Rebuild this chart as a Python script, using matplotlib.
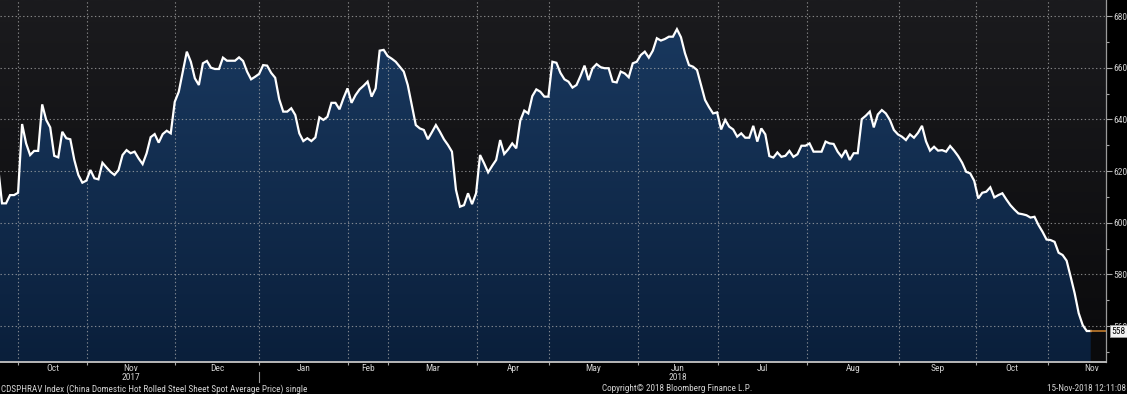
import numpy as np
import matplotlib
matplotlib.use("Agg")
import matplotlib.pyplot as plt
from matplotlib.colors import LinearSegmentedColormap
from matplotlib.patches import Polygon
from matplotlib.transforms import blended_transform_factory

plt.rcParams["font.family"] = ["Roboto Condensed", "DejaVu Sans"]

# China domestic HRC spot average price, one value per trading day (Sep-2017 .. 15-Nov-2018)
prices = [
    622.0, 607.5, 607.5, 610.7, 610.7, 611.6, 638.2, 630.7, 626.2, 627.8,
    627.8, 645.8, 639.8, 636.9, 625.9, 625.3, 635.2, 632.7, 632.3, 624.3,
    618.5, 615.5, 616.3, 620.4, 617.2, 616.8, 623.2, 621.4, 619.7, 618.5,
    620.4, 626.2, 628.1, 626.9, 627.5, 624.9, 622.7, 626.9, 633.1, 634.3,
    631.0, 634.3, 635.6, 634.6, 646.8, 650.7, 658.5, 666.2, 662.3, 655.9,
    653.3, 661.7, 662.6, 660.0, 659.5, 659.5, 663.9, 662.7, 662.7, 662.7,
    664.0, 662.6, 658.5, 655.5, 656.5, 657.6, 661.0, 660.8, 658.0, 656.1,
    647.8, 643.0, 643.0, 644.3, 641.7, 634.6, 631.6, 632.7, 631.6, 633.0,
    640.8, 639.8, 641.0, 646.4, 646.4, 643.9, 648.2, 652.0, 646.4, 649.4,
    651.6, 653.0, 654.6, 648.8, 652.0, 666.6, 666.9, 664.5, 663.5, 662.3,
    660.4, 658.5, 653.3, 645.5, 637.8, 636.5, 635.9, 632.3, 635.0, 637.8,
    635.2, 632.3, 630.1, 627.5, 612.7, 606.2, 606.8, 611.4, 607.2, 611.4,
    626.2, 623.0, 619.5, 622.0, 624.3, 632.0, 626.6, 628.4, 630.7, 628.8,
    639.5, 643.4, 642.3, 649.0, 651.6, 650.7, 648.8, 648.8, 662.3, 661.9,
    658.0, 655.5, 654.6, 652.3, 653.3, 656.8, 660.8, 655.2, 659.8, 661.4,
    660.2, 659.8, 659.8, 654.6, 654.3, 658.5, 657.8, 656.3, 661.7, 662.3,
    664.9, 666.2, 663.9, 666.6, 671.4, 670.5, 671.1, 672.0, 672.0, 674.9,
    671.8, 665.6, 661.0, 660.4, 659.1, 653.3, 647.5, 644.7, 642.3, 642.7,
    636.1, 639.8, 637.2, 636.1, 633.3, 634.6, 632.9, 632.9, 637.5, 631.4,
    636.5, 634.2, 625.8, 625.2, 627.2, 625.5, 625.9, 627.8, 625.5, 626.5,
    629.8, 629.8, 630.7, 627.5, 627.5, 627.5, 631.4, 630.7, 630.5, 627.5,
    625.5, 628.1, 624.3, 626.9, 626.9, 640.1, 641.4, 643.0, 636.9, 641.9,
    643.6, 642.3, 639.8, 635.9, 634.2, 633.3, 632.0, 634.2, 632.9, 634.8,
    637.5, 631.5, 627.9, 629.4, 627.9, 628.1, 627.5, 629.7, 627.9, 625.8,
    623.2, 619.7, 619.1, 616.2, 609.4, 611.6, 612.0, 613.7, 609.8, 610.7,
    611.4, 609.0, 606.8, 605.1, 603.6, 603.3, 602.9, 602.0, 602.3, 599.1,
    596.5, 593.5, 593.3, 592.6, 588.4, 587.5, 585.3, 579.1, 572.7, 565.0,
    560.4, 558.1, 558.1,
]

# first trading day (index) of each month, Oct-2017 .. Dec-2018
month_start = [4.98, 22.16, 44.07, 64.98, 87.13, 97.09, 119.25, 137.17,
               159.33, 179.24, 201.4, 224.3, 243.47, 261.4, 283.0]
month_names = ["Oct", "Nov", "Dec", "Jan", "Feb", "Mar", "Apr", "May",
               "Jun", "Jul", "Aug", "Sep", "Oct", "Nov"]
year_labels = {"2017": 1, "2018": 8}  # month slot under which the year is written
last_price = 558

ymin, ymax = 546.1, 686.2
xmin, xmax = 0.5, 275.8

x = np.arange(len(prices))
y = np.array(prices)

fig = plt.figure(figsize=(11.27, 3.94), dpi=100, facecolor="black")
ax = fig.add_axes([0.0, 32 / 394, 1106 / 1127, 362 / 394])
ax.set_facecolor("black")

# dark background gradient
bg = LinearSegmentedColormap.from_list("bg", ["#0a0a0c", "#1b1b1e"])
grad = np.linspace(0, 1, 256).reshape(-1, 1)
ax.imshow(grad, extent=[xmin, xmax, ymin, ymax], origin="lower",
          aspect="auto", cmap=bg, zorder=0)

# area fill with navy gradient, clipped to the area under the line
fill_cmap = LinearSegmentedColormap.from_list("fill", ["#0a1f3b", "#1a3a61"])
im = ax.imshow(grad, extent=[xmin, xmax, ymin, ymax], origin="lower",
               aspect="auto", cmap=fill_cmap, zorder=1)
verts = np.vstack([[x[0], ymin], np.column_stack([x, y]), [x[-1], ymin]])
clip = Polygon(verts, closed=True, transform=ax.transData, facecolor="none",
               edgecolor="none")
ax.add_patch(clip)
im.set_clip_path(clip)

ax.plot(x, y, color="white", lw=1.6, zorder=4, solid_joinstyle="miter")

# last price marker
ax.plot([x[-1], xmax], [last_price, last_price], color="#c27b2c", lw=1.2,
        zorder=4, clip_on=False)
ax.text(1.0045, last_price, f"{last_price}",
        transform=blended_transform_factory(ax.transAxes, ax.transData),
        ha="left", va="center", fontsize=6.8, color="black", zorder=6, clip_on=False,
        bbox=dict(boxstyle="square,pad=0.15", facecolor="#f2f2f2",
                  edgecolor="#9a9a9a", lw=0.6))

# axes / grid
ax.yaxis.tick_right()
ax.set_yticks(np.arange(560, 681, 20))
ax.set_yticks(np.arange(550, 691, 10), minor=True)
ax.tick_params(axis="y", which="major", direction="out", length=4, width=0.8,
               colors="#a8a8a8", labelcolor="#cfcfcf", labelsize=6.8, pad=1)
ax.tick_params(axis="y", which="minor", direction="out", length=2, width=0.8,
               colors="#a8a8a8")

starts_in_view = [m for m in month_start if xmin < m < xmax]
ax.set_xticks(starts_in_view)
ax.set_xticklabels([])
centers = [(a + b) / 2 for a, b in zip(month_start[:-1], month_start[1:])]
ax.set_xticks(centers, minor=True)
ax.set_xticklabels(month_names, minor=True)
ax.tick_params(axis="x", which="major", direction="out", length=2.5, width=0.8,
               colors="#a8a8a8")
ax.tick_params(axis="x", which="minor", length=0, labelcolor="#d0d0d0",
               labelsize=6.8, pad=1.5)

# limits after the ticks, since set_ticks may widen the view
ax.set_xlim(xmin, xmax)
ax.set_ylim(ymin, ymax)

ax.set_axisbelow(False)
ax.grid(True, which="major", color="#b4b4b4", alpha=0.7, lw=0.8,
        linestyle=(0, (1.2, 2.2)), zorder=2.5)

for side in ("left", "top"):
    ax.spines[side].set_visible(False)
ax.spines["right"].set_color("#9a9a9a")
ax.spines["right"].set_linewidth(0.9)
ax.spines["bottom"].set_color("#b8b8b8")
ax.spines["bottom"].set_linewidth(1.4)
for s in ax.spines.values():
    s.set_zorder(5)

# year labels and year separator
tr = blended_transform_factory(ax.transData, ax.transAxes)
for year, slot in year_labels.items():
    ax.text(centers[slot], -0.044, year, transform=tr, ha="center", va="center",
            fontsize=6.8, color="#d0d0d0", clip_on=False)
jan = month_start[3]
ax.plot([jan, jan], [-0.028, -0.055], transform=tr, color="#9a9a9a", lw=0.8,
        clip_on=False)

# footer
fig.text(0.001, 0.0127,
         "CDSPHRAV Index (China Domestic Hot Rolled Steel Sheet Spot Average Price) single",
         ha="left", va="center", fontsize=6.6, color="#d4d4d4")
fig.text(602 / 1127, 0.0127, "Copyright\u00a9 2018 Bloomberg Finance L.P.",
         ha="left", va="center", fontsize=6.6, color="#d4d4d4")
fig.text(1126 / 1127, 0.0127, "15-Nov-2018 12:11:08",
         ha="right", va="center", fontsize=6.6, color="#d4d4d4")

fig.savefig("out.png", dpi=100, facecolor="black")
